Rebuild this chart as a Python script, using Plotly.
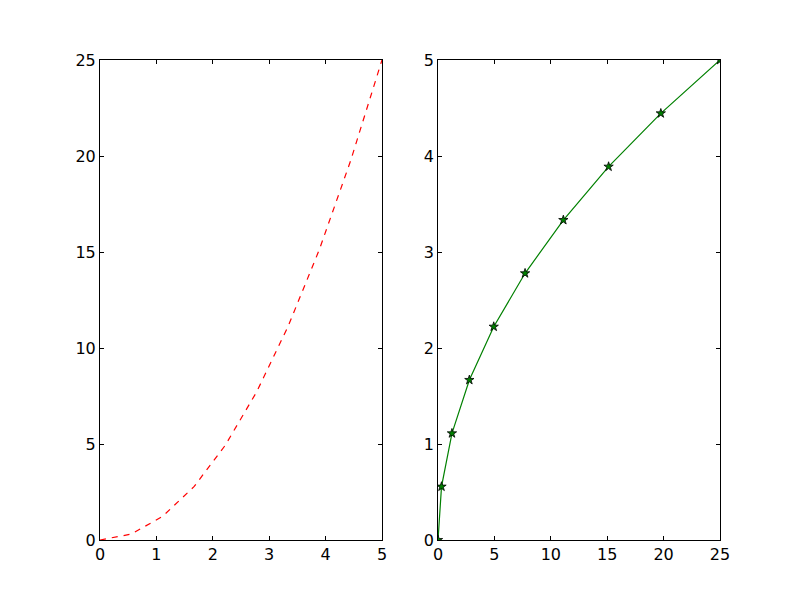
import plotly.graph_objects as go

# values
x_vals = [0.0, 0.556, 1.111, 1.667, 2.222, 2.778, 3.333, 3.889, 4.444, 5.0]
y_vals = [0.0, 0.309, 1.235, 2.778, 4.938, 7.716, 11.111, 15.123, 19.753, 25.0]

left_xticks = [0, 1, 2, 3, 4, 5]
left_yticks = [0, 5, 10, 15, 20, 25]
right_xticks = [0, 5, 10, 15, 20, 25]
right_yticks = [0, 1, 2, 3, 4, 5]

fig = go.Figure()
fig.add_trace(go.Scatter(x=x_vals, y=y_vals, mode="lines",
                         line=dict(color="red", width=1.2, dash="6px,6px"),
                         xaxis="x", yaxis="y", showlegend=False, cliponaxis=True))
fig.add_trace(go.Scatter(x=y_vals, y=x_vals, mode="lines+markers",
                         line=dict(color="green", width=1.2),
                         marker=dict(symbol="star", size=7, color="green",
                                     line=dict(color="black", width=0.8)),
                         xaxis="x2", yaxis="y2", showlegend=False, cliponaxis=True))

ax_common = dict(showline=True, linecolor="black", linewidth=1, mirror="ticks",
                 ticks="inside", ticklen=4, tickcolor="black", tickwidth=1,
                 showgrid=False, zeroline=False, automargin=False,
                 tickfont=dict(family="DejaVu Sans", size=16, color="black"))

fig.update_layout(
    width=792, height=592,
    margin=dict(l=92, r=80, t=52, b=60),
    paper_bgcolor="white", plot_bgcolor="white",
    xaxis=dict(domain=[0.0, 0.4548], range=[0, 5], tickvals=left_xticks, anchor="y", **ax_common),
    yaxis=dict(domain=[0.0, 1.0], range=[0, 25], tickvals=left_yticks, anchor="x", **ax_common),
    xaxis2=dict(domain=[0.5452, 1.0], range=[0, 25], tickvals=right_xticks, anchor="y2", **ax_common),
    yaxis2=dict(domain=[0.0, 1.0], range=[0, 5], tickvals=right_yticks, anchor="x2", **ax_common),
)

fig.write_html("out.html")
